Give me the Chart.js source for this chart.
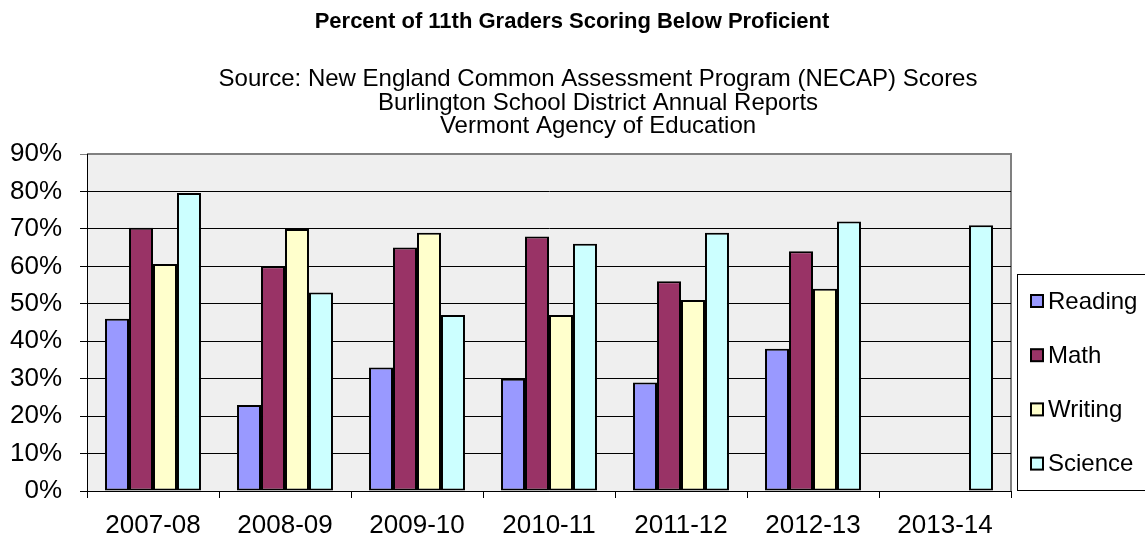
<!DOCTYPE html>
<html lang="en">
<head>
<meta charset="UTF-8">
<title>Percent of 11th Graders Scoring Below Proficient</title>
<script src="https://cdn.jsdelivr.net/npm/chart.js"></script>
<style>
  html, body { margin: 0; padding: 0; background: #fff; }
</style>
</head>
<body>
<canvas id="chart1" width="1145" height="537"></canvas>

<script>
// data
const years = ["2007-08", "2008-09", "2009-10", "2010-11", "2011-12", "2012-13", "2013-14"];
const reading = [46, 23, 33, 30, 29, 38, null];
const math    = [70.3, 60, 65, 68, 56, 64, null];
const writing = [60.6, 70, 69, 47, 51, 54, null];
const science = [79.6, 53, 47, 66, 69, 72, 71];
const yTicks  = [0, 10, 20, 30, 40, 50, 60, 70, 80, 90];

const titleText = "Percent of 11th Graders Scoring Below Proficient";
const subtitleLines = [
  "Source: New England Common Assessment Program (NECAP) Scores",
  "Burlington School District Annual Reports",
  "Vermont Agency of Education"
];

Chart.defaults.font.family = "'Liberation Sans', Arial, sans-serif";
Chart.defaults.color = "#000";

// grey plot background + frame, then titles and boxed legend on top
const excelLook = {
  id: "excelLook",
  beforeDraw(chart) {
    const ctx = chart.ctx;
    const a = chart.chartArea;
    ctx.save();
    ctx.fillStyle = "#efefef";
    ctx.fillRect(a.left, a.top, a.right - a.left, a.bottom - a.top);
    ctx.strokeStyle = "#808080";
    ctx.lineWidth = 2;
    ctx.beginPath();
    ctx.moveTo(a.left, a.top);
    ctx.lineTo(a.right, a.top);
    ctx.lineTo(a.right, a.bottom);
    ctx.stroke();
    ctx.restore();
  },
  afterDraw(chart) {
    const ctx = chart.ctx;
    ctx.save();
    ctx.fillStyle = "#000";
    ctx.textAlign = "center";
    ctx.textBaseline = "alphabetic";
    ctx.font = "bold 22px 'Liberation Sans', Arial, sans-serif";
    ctx.fillText(titleText, 572, 28);
    ctx.font = "24px 'Liberation Sans', Arial, sans-serif";
    subtitleLines.forEach((t, i) => ctx.fillText(t, 598, 86 + i * 23.7));

    // legend
    ctx.strokeStyle = "#000";
    ctx.lineWidth = 1;
    ctx.strokeRect(1017.5, 274.5, 150, 216);
    ctx.font = "24px 'Liberation Sans', Arial, sans-serif";
    ctx.textAlign = "left";
    ctx.textBaseline = "middle";
    chart.data.datasets.forEach((ds, i) => {
      const y = 301 + i * 54.2;
      ctx.fillStyle = ds.backgroundColor;
      ctx.fillRect(1031, y - 6, 12, 12);
      ctx.lineWidth = 2;
      ctx.strokeRect(1031, y - 6, 12, 12);
      ctx.fillStyle = "#000";
      ctx.fillText(ds.label, 1048, y + 1);
    });
    ctx.restore();
  }
};

const barStyle = {
  borderColor: "#000",
  borderWidth: 2,
  borderSkipped: false,
  barPercentage: 1,
  categoryPercentage: 0.727
};

new Chart(document.getElementById("chart1"), {
  type: "bar",
  data: {
    labels: years,
    datasets: [
      { label: "Reading", data: reading, backgroundColor: "#9999ff", ...barStyle },
      { label: "Math",    data: math,    backgroundColor: "#993366", ...barStyle },
      { label: "Writing", data: writing, backgroundColor: "#ffffcc", ...barStyle },
      { label: "Science", data: science, backgroundColor: "#ccffff", ...barStyle }
    ]
  },
  options: {
    responsive: false,
    animation: false,
    layout: { padding: { left: 0, right: 134, top: 154, bottom: 0 } },
    plugins: {
      legend: { display: false },
      tooltip: { enabled: false },
      title: { display: false }
    },
    scales: {
      x: {
        grid: { offset: true, drawOnChartArea: false, tickLength: 7, color: "#000" },
        border: { color: "#000", width: 1 },
        ticks: { font: { size: 26 }, padding: 12, maxRotation: 0 },
        afterFit(scale) { scale.height = 46; }
      },
      y: {
        min: 0,
        max: 90,
        afterBuildTicks(scale) { scale.ticks = yTicks.map(v => ({ value: v })); },
        ticks: { font: { size: 26 }, padding: 18, callback: v => v + "%" },
        grid: {
          tickLength: 7,
          color: c => (c.tick && c.tick.value === 90) ? "#808080" : "#000"
        },
        border: { color: "#000", width: 1 },
        afterFit(scale) { scale.width = 87; }
      }
    }
  },
  plugins: [excelLook]
});
</script>
</body>
</html>
